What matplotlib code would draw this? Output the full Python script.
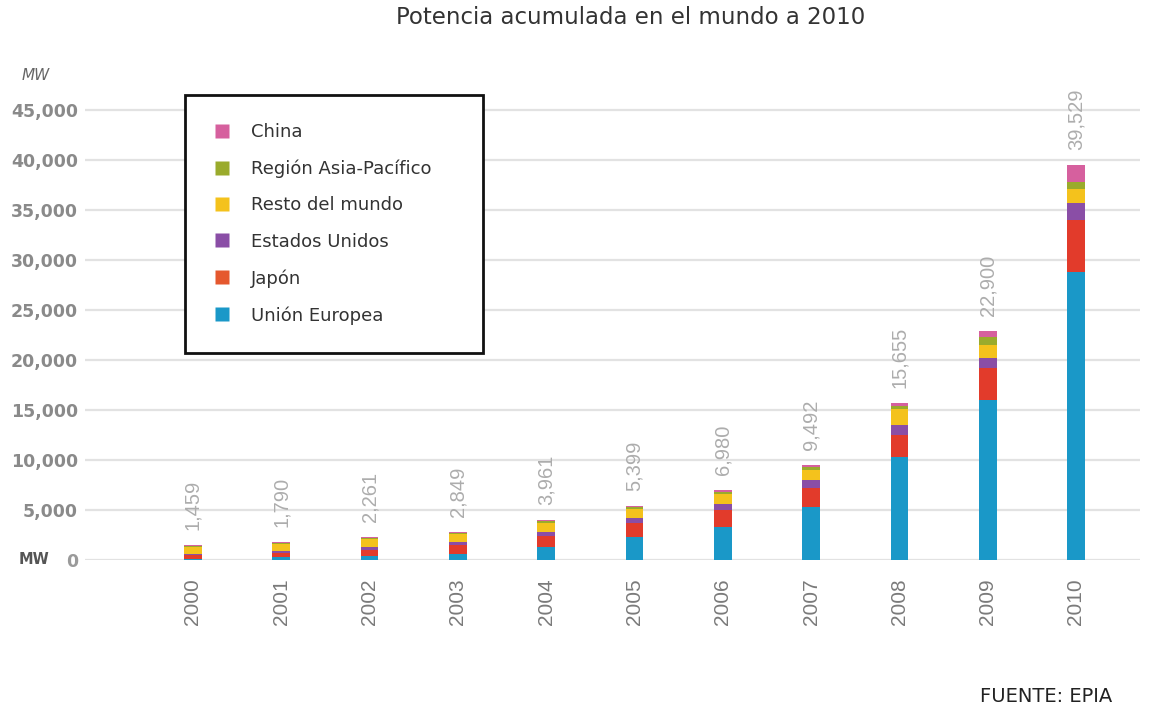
import matplotlib
matplotlib.use("Agg")
import matplotlib.pyplot as plt
from matplotlib.lines import Line2D
import numpy as np

# Accumulated PV capacity (MW) by region, 2000-2010
years = ["2000", "2001", "2002", "2003", "2004", "2005",
         "2006", "2007", "2008", "2009", "2010"]
union_europea = [130, 260, 400, 600, 1300, 2300, 3300, 5300, 10300, 16000, 28800]
japon = [330, 450, 640, 900, 1100, 1400, 1700, 1900, 2200, 3200, 5200]
estados_unidos = [140, 170, 220, 300, 400, 500, 600, 800, 1000, 1000, 1700]
resto_mundo = [730, 750, 800, 800, 900, 900, 1000, 1000, 1600, 1300, 1400]
asia_pacifico = [80, 100, 120, 150, 160, 200, 250, 300, 300, 800, 700]
china = [49, 60, 81, 99, 101, 99, 130, 192, 255, 600, 1729]
totals = [1459, 1790, 2261, 2849, 3961, 5399, 6980, 9492, 15655, 22900, 39529]
total_labels = ["1,459", "1,790", "2,261", "2,849", "3,961", "5,399",
                "6,980", "9,492", "15,655", "22,900", "39,529"]

series = [
    ("Unión Europea", union_europea, "#1a98c8"),
    ("Japón", japon, "#e23b2b"),
    ("Estados Unidos", estados_unidos, "#8a4ea6"),
    ("Resto del mundo", resto_mundo, "#f4c21c"),
    ("Región Asia-Pacífico", asia_pacifico, "#9aab2c"),
    ("China", china, "#d6609e"),
]
legend_colors = {"Japón": "#e5582e"}

yticks = [0, 5000, 10000, 15000, 20000, 25000, 30000, 35000, 40000, 45000]
ytick_labels = ["0", "5,000", "10,000", "15,000", "20,000", "25,000",
                "30,000", "35,000", "40,000", "45,000"]

W, H = 1151, 715
fig = plt.figure(figsize=(W / 100, H / 100), dpi=100)
left, right, bottom, top = 85, 1140, 560, 100
ax = fig.add_axes([left / W, 1 - bottom / H, (right - left) / W, (bottom - top) / H])

x = np.arange(len(years))
base = np.zeros(len(years))
for name, vals, col in series:
    ax.bar(x, vals, width=0.2, bottom=base, color=col, edgecolor="none", zorder=3)
    base += np.array(vals)

# totals above each bar
for xi, t, lab in zip(x, totals, total_labels):
    ax.annotate(lab, (xi, t), xytext=(0, 15), textcoords="offset pixels",
                rotation=90, ha="center", va="bottom", fontsize=14.5,
                family="Liberation Sans", color="#adadad")

ax.set_xlim(-1.223, 10.725)
ax.set_ylim(0, 46000)
ax.set_yticks(yticks)
ax.set_yticklabels(ytick_labels)
ax.set_xticks(x)
ax.set_xticklabels(years, rotation=90, family="Liberation Sans", fontsize=15,
                   color="#7a7a7a")
ax.tick_params(axis="x", length=0, pad=13)
ax.tick_params(axis="y", length=0, pad=5, labelsize=12.5, labelcolor="#8a8a8a")
for lbl in ax.get_yticklabels():
    lbl.set_fontweight("bold")
ax.get_yticklabels()[0].set_color("#9a9a9a")

for s in ax.spines.values():
    s.set_visible(False)
ax.grid(axis="y", color="#e2e2e2", linewidth=1.6, zorder=0)
ax.set_axisbelow(True)

# unit labels
fig.text(22 / W, 1 - 75 / H, "MW", fontsize=11, color="#666666",
         ha="left", va="center", style="italic")
fig.text(49 / W, 1 - 560 / H, "MW", fontsize=10.5, color="#555555",
         ha="right", va="center", fontweight="bold")

# legend (top entry is the top of the stack)
handles = []
labels = []
for name, vals, col in reversed(series):
    handles.append(Line2D([], [], linestyle="none", marker="s", markersize=10,
                          markerfacecolor=legend_colors.get(name, col),
                          markeredgecolor="none"))
    labels.append(name)
leg = fig.legend(handles, labels, loc="upper left", mode="expand",
                 bbox_to_anchor=(185 / W, 1 - 355 / H, 298 / W, 260 / H),
                 bbox_transform=fig.transFigure,
                 prop={"size": 13}, labelspacing=1.02, borderpad=1.55,
                 handlelength=1.0, handletextpad=1.1, fancybox=False,
                 framealpha=1, edgecolor="#111111", borderaxespad=0)
leg.get_frame().set_linewidth(2)
for t in leg.get_texts():
    t.set_color("#333333")

fig.text(631 / W, 1 - 18 / H, "Potencia acumulada en el mundo a 2010",
         ha="center", va="center", fontsize=16.5, color="#333333")
fig.text(1112 / W, 1 - 697 / H, "FUENTE: EPIA", ha="right", va="center",
         fontsize=14, color="#222222")

fig.savefig("out.png", dpi=100)
